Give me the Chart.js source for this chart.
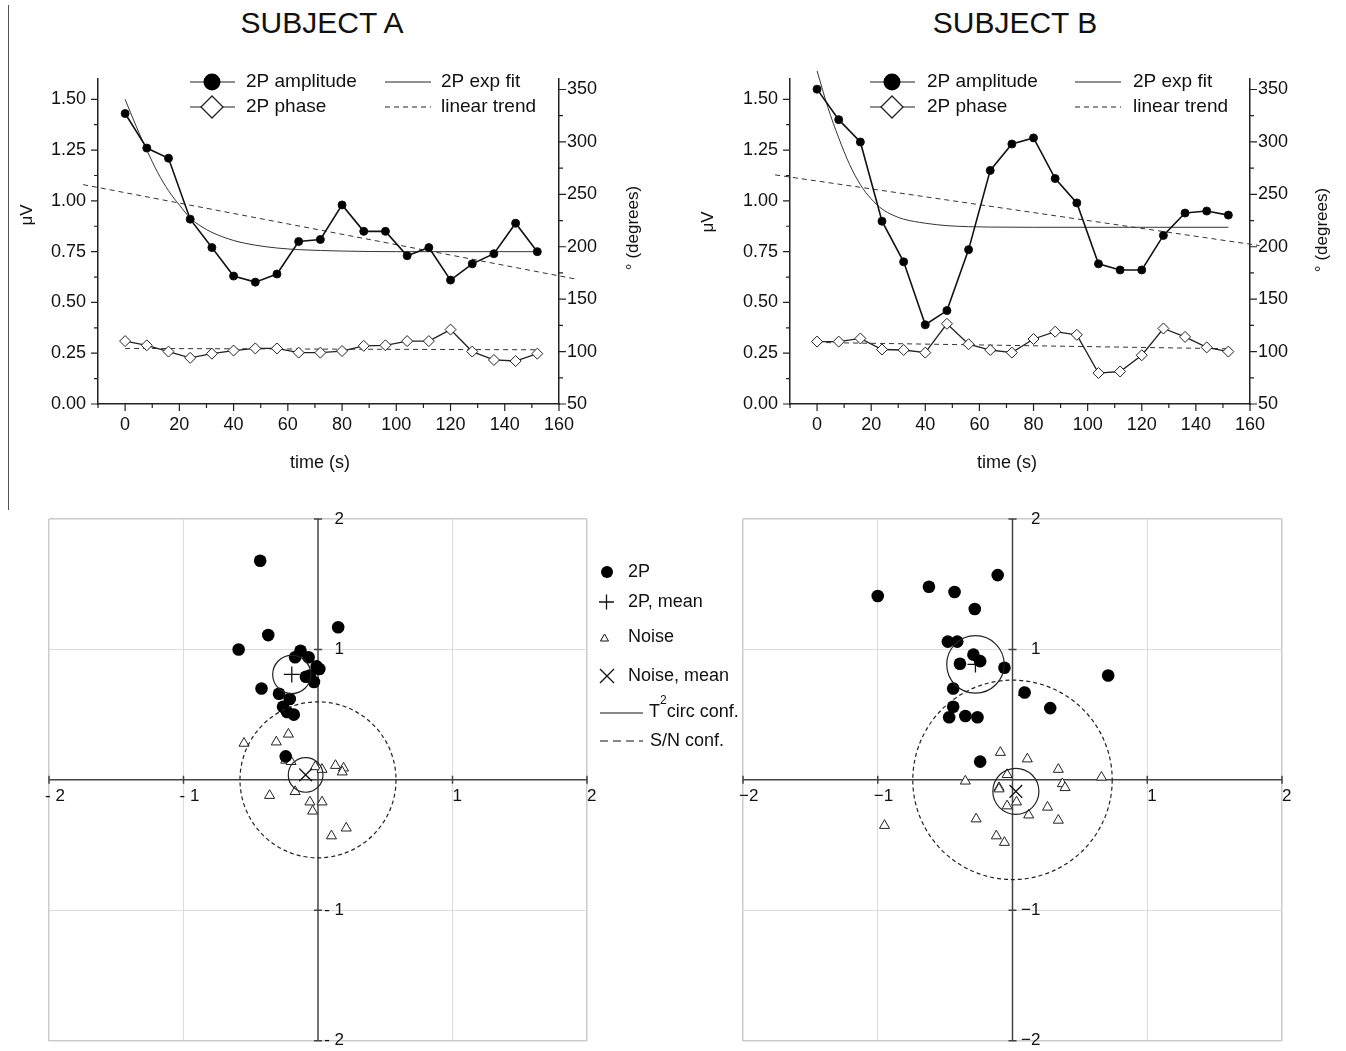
<!DOCTYPE html>
<html>
<head>
<meta charset="utf-8">
<script src="https://cdn.jsdelivr.net/npm/chart.js@4.4.1/dist/chart.umd.min.js"></script>
<style>
  body { margin: 0; background: #fff; font-family: 'Liberation Sans', Arial, sans-serif; }
  #wrap { position: relative; width: 1346px; height: 1051px; overflow: hidden; }
  canvas { position: absolute; }
  .title { position: absolute; top: 8px; width: 400px; text-align: center; font-size: 30px; line-height: 30px; color: #111; }
  #edge { position: absolute; left: 8px; top: 5px; width: 1px; height: 505px; background: #555; }
</style>
</head>
<body>
<div id="wrap">
  <div class="title" style="left:122px">SUBJECT A</div>
  <div class="title" style="left:815px">SUBJECT B</div>
  <div id="edge"></div>
  <canvas id="topA" width="673" height="490" style="left:0;top:0"></canvas>
  <canvas id="topB" width="673" height="490" style="left:673px;top:0"></canvas>
  <canvas id="polarA" width="760" height="551" style="left:0;top:500px"></canvas>
  <canvas id="polarB" width="673" height="551" style="left:673px;top:500px"></canvas>
</div>
<script>
const FONT = "'Liberation Sans', Arial, Helvetica, sans-serif";
Chart.defaults.font.family = FONT;
Chart.defaults.color = '#111';

// time course (s)
const times = [0, 8, 16, 24, 32, 40, 48, 56, 64, 72, 80, 88, 96, 104, 112, 120, 128, 136, 144, 152];

// subject A
const ampA   = [1.43, 1.26, 1.21, 0.91, 0.77, 0.63, 0.60, 0.64, 0.80, 0.81, 0.98, 0.85, 0.85, 0.73, 0.77, 0.61, 0.69, 0.74, 0.89, 0.75];
const phaseA = [110, 106, 100, 94, 98, 101, 103, 103, 99, 99, 100.5, 105.5, 106, 110, 110, 121, 100, 92, 91, 98];
const fitTimesA = [0, 4, 8, 12, 16, 20, 24, 28, 32, 40, 48, 56, 64, 80, 100, 152];
const fitA      = [1.50, 1.37, 1.25, 1.14, 1.05, 0.98, 0.915, 0.875, 0.845, 0.805, 0.782, 0.768, 0.76, 0.753, 0.75, 0.75];
const trendTimesA = [-15.5, 167];
const ampTrendA   = [1.08, 0.613];
const phaseTrendTimes = [0, 152];
const phaseTrendA = [103, 101.7];

// subject B
const ampB   = [1.55, 1.40, 1.29, 0.90, 0.70, 0.39, 0.46, 0.76, 1.15, 1.28, 1.31, 1.11, 0.99, 0.69, 0.66, 0.66, 0.83, 0.94, 0.95, 0.93];
const phaseB = [109.5, 109.5, 112.5, 102, 101.5, 99, 126.5, 107, 101.5, 99, 112, 119, 116, 79.5, 81, 96.5, 122, 114, 104, 100];
const fitTimesB = [0, 4, 8, 12, 16, 20, 24, 28, 32, 40, 48, 56, 64, 80, 152];
const fitB      = [1.64, 1.46, 1.31, 1.18, 1.08, 1.01, 0.96, 0.93, 0.91, 0.89, 0.878, 0.873, 0.871, 0.87, 0.87];
const trendTimesB = [-15.5, 163.5];
const ampTrendB   = [1.128, 0.78];
const phaseTrendB = [108.7, 102.7];

// ticks
const xTicks = [0, 20, 40, 60, 80, 100, 120, 140, 160];
const xMinorTicks = [-10, 10, 30, 50, 70, 90, 110, 130, 150];
const ampTicks = [0, 0.25, 0.5, 0.75, 1.0, 1.25, 1.5];
const ampMinorTicks = [0.125, 0.375, 0.625, 0.875, 1.125, 1.375];
const degTicks = [50, 100, 150, 200, 250, 300, 350];
const degMinorTicks = [75, 125, 175, 225, 275, 325];

// polar plots (real, imaginary)
const twoPAx = [-0.43, 0.15, -0.37, -0.59, -0.13, -0.17, -0.07, -0.01, 0.01, -0.09, -0.06, -0.03, -0.42, -0.29, -0.21, -0.26, -0.23, -0.18, -0.24];
const twoPAy = [1.68, 1.17, 1.11, 1.00, 0.99, 0.94, 0.94, 0.87, 0.85, 0.79, 0.80, 0.75, 0.70, 0.66, 0.62, 0.56, 0.52, 0.50, 0.18];
const noiseAx = [-0.55, -0.22, -0.31, -0.24, -0.20, -0.02, 0.03, 0.13, 0.19, 0.18, -0.36, -0.17, -0.06, 0.03, -0.04, 0.10, 0.21];
const noiseAy = [0.28, 0.35, 0.29, 0.15, 0.14, 0.10, 0.08, 0.11, 0.09, 0.06, -0.12, -0.09, -0.17, -0.17, -0.24, -0.43, -0.37];
const meanTwoPA = [-0.195, 0.808];
const meanNoiseA = [-0.092, 0.038];
const confTwoPA = 0.142;
const confNoiseA = 0.129;
const snConfA = 0.58;

const twoPBx = [-1.00, -0.62, -0.43, -0.11, -0.28, -0.48, -0.41, -0.29, -0.24, -0.39, -0.06, 0.71, -0.44, 0.09, -0.44, 0.28, -0.47, -0.35, -0.26, -0.24];
const twoPBy = [1.41, 1.48, 1.44, 1.57, 1.31, 1.06, 1.06, 0.96, 0.91, 0.89, 0.86, 0.80, 0.70, 0.67, 0.56, 0.55, 0.48, 0.49, 0.48, 0.14];
const noiseBx = [0.08, -0.95, -0.35, -0.27, -0.09, 0.11, -0.04, -0.10, -0.10, -0.04, 0.03, 0.12, -0.12, -0.06, 0.26, 0.34, 0.34, 0.37, 0.39, 0.66];
const noiseBy = [0.67, -0.35, -0.01, -0.30, 0.21, 0.16, 0.04, -0.06, -0.07, -0.20, -0.17, -0.27, -0.43, -0.48, -0.21, -0.31, 0.08, -0.03, -0.06, 0.02];
const meanTwoPB = [-0.275, 0.885];
const meanNoiseB = [0.025, -0.088];
const confTwoPB = 0.213;
const confNoiseB = 0.171;
const snConfB = 0.74;

const polarTicks = [-2, -1, 1, 2];
const polarLabelsA = ['- 2', '- 1', '1', '2'];
const polarLabelsB = ['\u22122', '\u22121', '1', '2'];

const toXY = (xs, ys) => xs.map((v, i) => ({ x: v, y: ys[i] }));

function vText(ctx, txt, x, y) {
  ctx.save();
  ctx.translate(x, y);
  ctx.rotate(-Math.PI / 2);
  ctx.textAlign = 'center';
  ctx.textBaseline = 'middle';
  ctx.fillText(txt, 0, 0);
  ctx.restore();
}

// tick marks, axis titles and the in-plot legend
function topDecor(c) {
  return {
    id: 'topDecor',
    afterDraw(chart) {
      const { ctx, chartArea: a, scales: { x, y, y2 } } = chart;
      ctx.save();
      ctx.strokeStyle = '#222';
      ctx.lineWidth = 1.2;
      ctx.beginPath();
      xTicks.forEach(v => { const p = x.getPixelForValue(v); ctx.moveTo(p, a.bottom); ctx.lineTo(p, a.bottom + 7); });
      xMinorTicks.forEach(v => { const p = x.getPixelForValue(v); ctx.moveTo(p, a.bottom); ctx.lineTo(p, a.bottom + 4); });
      ampTicks.forEach(v => { const p = y.getPixelForValue(v); ctx.moveTo(a.left, p); ctx.lineTo(a.left - 7, p); });
      ampMinorTicks.forEach(v => { const p = y.getPixelForValue(v); ctx.moveTo(a.left, p); ctx.lineTo(a.left - 4, p); });
      degTicks.forEach(v => { const p = y2.getPixelForValue(v); ctx.moveTo(a.right, p); ctx.lineTo(a.right + 7, p); });
      degMinorTicks.forEach(v => { const p = y2.getPixelForValue(v); ctx.moveTo(a.right, p); ctx.lineTo(a.right + 4, p); });
      ctx.stroke();

      // axis titles
      ctx.fillStyle = '#111';
      ctx.font = `17px ${FONT}`;
      vText(ctx, '\u03bcV', c.uvX, c.uvY);
      vText(ctx, '\u00b0 (degrees)', c.degX, c.degY);
      ctx.font = `18px ${FONT}`;
      ctx.textAlign = 'center';
      ctx.textBaseline = 'middle';
      ctx.fillText('time (s)', c.timeX, 463);

      // legend
      const r1 = 82, r2 = 107;
      ctx.lineWidth = 1;
      ctx.strokeStyle = '#222';
      ctx.beginPath();
      ctx.moveTo(c.lx, r1); ctx.lineTo(c.lx + 45, r1);
      ctx.moveTo(c.lx, r2); ctx.lineTo(c.lx + 45, r2);
      ctx.moveTo(c.cx, r1); ctx.lineTo(c.cx + 46, r1);
      ctx.stroke();
      ctx.setLineDash([5, 4]);
      ctx.beginPath();
      ctx.moveTo(c.cx, r2); ctx.lineTo(c.cx + 46, r2);
      ctx.stroke();
      ctx.setLineDash([]);
      const mx = c.lx + 22;
      ctx.fillStyle = '#000';
      ctx.beginPath(); ctx.arc(mx, r1, 8.5, 0, Math.PI * 2); ctx.fill();
      ctx.fillStyle = '#fff';
      ctx.lineWidth = 1.3;
      ctx.beginPath();
      ctx.moveTo(mx, r2 - 11); ctx.lineTo(mx + 11, r2); ctx.lineTo(mx, r2 + 11); ctx.lineTo(mx - 11, r2); ctx.closePath();
      ctx.fill(); ctx.stroke();
      ctx.fillStyle = '#111';
      ctx.font = `19px ${FONT}`;
      ctx.textAlign = 'left';
      ctx.fillText('2P amplitude', c.tx, r1);
      ctx.fillText('2P phase', c.tx, r2);
      ctx.fillText('2P exp fit', c.ctx, r1);
      ctx.fillText('linear trend', c.ctx, r2);
      ctx.restore();
    }
  };
}

function makeTop(id, amp, phase, fitT, fitV, trT, trV, phTrV, c) {
  const axisFont = { size: 18 };
  return new Chart(document.getElementById(id), {
    type: 'line',
    data: {
      datasets: [
        { label: '2P amplitude', data: toXY(times, amp), yAxisID: 'y', borderColor: '#111', backgroundColor: '#000',
          borderWidth: 1.6, pointRadius: 4, pointStyle: 'circle', pointBorderWidth: 1 },
        { label: '2P phase', data: toXY(times, phase), yAxisID: 'y2', borderColor: '#222', backgroundColor: '#fff',
          borderWidth: 1.3, pointRadius: 5.5, pointStyle: 'rectRot', pointBorderWidth: 1 },
        { label: '2P exp fit', data: toXY(fitT, fitV), yAxisID: 'y', borderColor: '#333', borderWidth: 1,
          pointRadius: 0, cubicInterpolationMode: 'monotone', clip: false },
        { label: 'linear trend', data: toXY(trT, trV), yAxisID: 'y', borderColor: '#333', borderWidth: 1,
          borderDash: [5, 4], pointRadius: 0, clip: false },
        { label: 'phase trend', data: toXY(phaseTrendTimes, phTrV), yAxisID: 'y2', borderColor: '#333', borderWidth: 1,
          borderDash: [5, 4], pointRadius: 0 }
      ]
    },
    options: {
      responsive: false,
      animation: false,
      layout: { padding: { top: 79, left: 0, right: 0, bottom: 0 } },
      plugins: { legend: { display: false }, tooltip: { enabled: false } },
      scales: {
        x: {
          type: 'linear', min: -10, max: 160,
          afterBuildTicks: s => { s.ticks = xTicks.map(v => ({ value: v })); },
          afterFit: s => { s.height = 86; },
          grid: { display: false, drawTicks: false },
          border: { color: '#222', width: 1.5 },
          ticks: { padding: 10, font: axisFont, color: '#111', maxRotation: 0 }
        },
        y: {
          position: 'left', min: 0, max: 1.6,
          afterBuildTicks: s => { s.ticks = ampTicks.map(v => ({ value: v })); },
          afterFit: s => { s.width = c.leftW; },
          grid: { display: false, drawTicks: false },
          border: { color: '#222', width: 1.5 },
          ticks: { padding: 12, font: axisFont, color: '#111', callback: v => v.toFixed(2) }
        },
        y2: {
          position: 'right', min: 50, max: 360,
          afterBuildTicks: s => { s.ticks = degTicks.map(v => ({ value: v })); },
          afterFit: s => { s.width = c.rightW; },
          grid: { display: false, drawTicks: false },
          border: { color: '#222', width: 1.5 },
          ticks: { padding: 8, font: axisFont, color: '#111' }
        }
      }
    },
    plugins: [topDecor(c)]
  });
}

// centred axes, confidence circles and (for A) the legend
function polarDecor(c) {
  return {
    id: 'polarDecor',
    beforeDatasetsDraw(chart) {
      const { ctx, scales: { x, y } } = chart;
      const x0 = x.getPixelForValue(0), y0 = y.getPixelForValue(0);
      ctx.save();
      ctx.strokeStyle = '#444';
      ctx.lineWidth = 1.5;
      ctx.beginPath();
      ctx.moveTo(x.getPixelForValue(-2), y0); ctx.lineTo(x.getPixelForValue(2), y0);
      ctx.moveTo(x0, y.getPixelForValue(-2)); ctx.lineTo(x0, y.getPixelForValue(2));
      polarTicks.forEach(v => {
        const px = x.getPixelForValue(v), py = y.getPixelForValue(v);
        ctx.moveTo(px, y0 - 4); ctx.lineTo(px, y0 + 4);
        ctx.moveTo(x0 - 4, py); ctx.lineTo(x0 + 4, py);
      });
      ctx.stroke();
      ctx.fillStyle = '#111';
      ctx.font = `17px ${FONT}`;
      ctx.textBaseline = 'middle';
      polarTicks.forEach((v, i) => {
        ctx.textAlign = 'left';
        ctx.fillText(c.labels[i], x.getPixelForValue(v) + (v < 0 ? -4 : 0), y0 + 16);
        ctx.textAlign = 'right';
        ctx.fillText(c.labels[i], x0 + c.yLabelDx, y.getPixelForValue(v));
      });
      ctx.restore();
    },
    afterDatasetsDraw(chart) {
      const { ctx, scales: { x, y } } = chart;
      const circle = (cx, cy, r, dash) => {
        const px = x.getPixelForValue(cx), py = y.getPixelForValue(cy);
        const pr = x.getPixelForValue(cx + r) - px;
        ctx.setLineDash(dash);
        ctx.beginPath();
        ctx.arc(px, py, pr, 0, Math.PI * 2);
        ctx.stroke();
      };
      ctx.save();
      ctx.strokeStyle = '#222';
      ctx.lineWidth = 1.2;
      circle(c.meanTwoP[0], c.meanTwoP[1], c.confTwoP, []);
      circle(c.meanNoise[0], c.meanNoise[1], c.confNoise, []);
      circle(0, 0, c.snConf, [4, 3]);
      ctx.setLineDash([]);
      ctx.restore();
      if (c.legend) drawPolarLegend(ctx);
    }
  };
}

function drawPolarLegend(ctx) {
  const ty = [72, 102, 137, 176, 212, 241];
  const tx = 628;
  ctx.save();
  ctx.strokeStyle = '#111';
  ctx.fillStyle = '#000';
  ctx.lineWidth = 1.3;
  ctx.beginPath(); ctx.arc(607, ty[0], 6, 0, Math.PI * 2); ctx.fill();
  ctx.beginPath();
  ctx.moveTo(599, ty[1]); ctx.lineTo(614, ty[1]);
  ctx.moveTo(606.5, ty[1] - 7.5); ctx.lineTo(606.5, ty[1] + 7.5);
  ctx.moveTo(600, ty[3] - 7); ctx.lineTo(614, ty[3] + 7);
  ctx.moveTo(614, ty[3] - 7); ctx.lineTo(600, ty[3] + 7);
  ctx.stroke();
  ctx.lineWidth = 1;
  ctx.beginPath();
  ctx.moveTo(604.5, ty[2] - 3); ctx.lineTo(608.5, ty[2] + 4); ctx.lineTo(600.5, ty[2] + 4); ctx.closePath();
  ctx.stroke();
  ctx.beginPath();
  ctx.moveTo(600, ty[4] + 1); ctx.lineTo(643, ty[4] + 1);
  ctx.stroke();
  ctx.setLineDash([8, 5]);
  ctx.beginPath();
  ctx.moveTo(600, ty[5]); ctx.lineTo(643, ty[5]);
  ctx.stroke();
  ctx.setLineDash([]);
  ctx.fillStyle = '#111';
  ctx.font = `18px ${FONT}`;
  ctx.textAlign = 'left';
  ctx.textBaseline = 'middle';
  ctx.fillText('2P', tx, ty[0]);
  ctx.fillText('2P, mean', tx, ty[1]);
  ctx.fillText('Noise', tx, ty[2]);
  ctx.fillText('Noise, mean', tx, ty[3]);
  let px = 649;
  ctx.fillText('T', px, ty[4]);
  px += ctx.measureText('T').width;
  ctx.font = `12px ${FONT}`;
  ctx.fillText('2', px, ty[4] - 11);
  px += ctx.measureText('2').width;
  ctx.font = `18px ${FONT}`;
  ctx.fillText('circ conf.', px, ty[4]);
  ctx.fillText('S/N conf.', 650, ty[5]);
  ctx.restore();
}

function makePolar(id, px, py, nx, ny, c) {
  const gridColor = g => g.tick.value === 0 ? 'rgba(0,0,0,0)' : (Math.abs(g.tick.value) === 2 ? '#cccccc' : '#dcdcdc');
  const gridWidth = g => Math.abs(g.tick.value) === 2 ? 1.5 : 1;
  const axis = (fitKey) => ({
    type: 'linear', min: -2, max: 2,
    afterBuildTicks: s => { s.ticks = [-2, -1, 0, 1, 2].map(v => ({ value: v })); },
    afterFit: s => { s[fitKey] = 0; },
    grid: { color: gridColor, lineWidth: gridWidth, drawTicks: false },
    border: { display: false },
    ticks: { display: false }
  });
  return new Chart(document.getElementById(id), {
    type: 'scatter',
    data: {
      datasets: [
        { label: '2P', data: toXY(px, py), pointStyle: 'circle', pointRadius: 6.3,
          backgroundColor: '#000', borderColor: '#000', borderWidth: 0 },
        { label: '2P, mean', data: [{ x: c.meanTwoP[0], y: c.meanTwoP[1] }], pointStyle: 'cross', pointRadius: 8,
          borderColor: '#111', borderWidth: 1.3 },
        { label: 'Noise, mean', data: [{ x: c.meanNoise[0], y: c.meanNoise[1] }], pointStyle: 'crossRot', pointRadius: 9,
          borderColor: '#111', borderWidth: 1.3 },
        { label: 'Noise', data: toXY(nx, ny), pointStyle: 'triangle', pointRadius: 5.8,
          backgroundColor: '#fff', borderColor: '#222', borderWidth: 1 }
      ]
    },
    options: {
      responsive: false,
      animation: false,
      layout: { padding: c.padding },
      plugins: { legend: { display: false }, tooltip: { enabled: false } },
      scales: { x: axis('height'), y: axis('width') }
    },
    plugins: [polarDecor(c)]
  });
}

makeTop('topA', ampA, phaseA, fitTimesA, fitA, trendTimesA, ampTrendA, phaseTrendA,
  { leftW: 98, rightW: 114, uvX: 27, uvY: 215, degX: 633, degY: 228, timeX: 320,
    lx: 190, tx: 246, cx: 385, ctx: 441 });
makeTop('topB', ampB, phaseB, fitTimesB, fitB, trendTimesB, ampTrendB, phaseTrendB,
  { leftW: 117, rightW: 96, uvX: 35, uvY: 222, degX: 649, degY: 230, timeX: 334,
    lx: 197, tx: 254, cx: 402, ctx: 460 });

makePolar('polarA', twoPAx, twoPAy, noiseAx, noiseAy,
  { padding: { left: 49, right: 173, top: 19, bottom: 9 }, labels: polarLabelsA, yLabelDx: 26,
    meanTwoP: meanTwoPA, meanNoise: meanNoiseA, confTwoP: confTwoPA, confNoise: confNoiseA, snConf: snConfA, legend: true });
makePolar('polarB', twoPBx, twoPBy, noiseBx, noiseBy,
  { padding: { left: 70, right: 64, top: 19, bottom: 9 }, labels: polarLabelsB, yLabelDx: 28,
    meanTwoP: meanTwoPB, meanNoise: meanNoiseB, confTwoP: confTwoPB, confNoise: confNoiseB, snConf: snConfB, legend: false });
</script>
</body>
</html>
